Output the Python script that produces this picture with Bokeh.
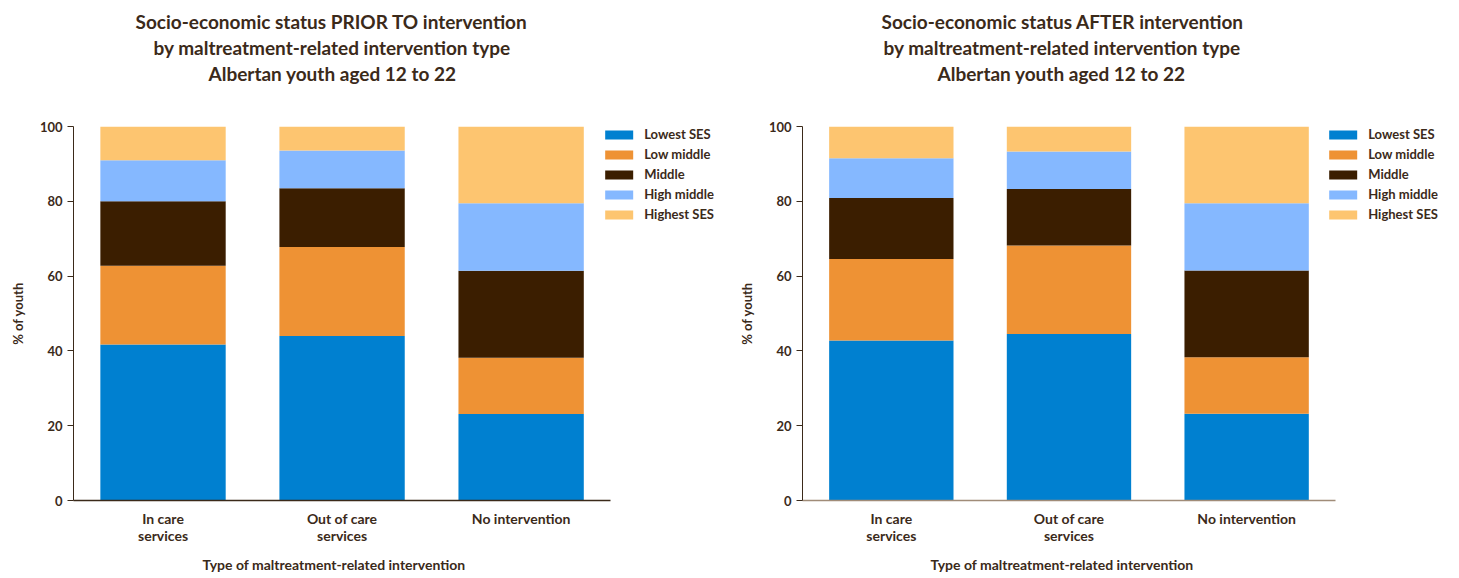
from bokeh.plotting import figure
from bokeh.layouts import row
from bokeh.models import Range1d, Title, FixedTicker
from bokeh.embed import file_html
from bokeh.resources import INLINE

categories = ["In care\nservices", "Out of care\nservices", "No intervention"]
ses_groups = ["Lowest SES", "Low middle", "Middle", "High middle", "Highest SES"]
colors = ["#0080D0", "#EE9234", "#3B1E00", "#85B8FF", "#FDC570"]

prior_lowest = [41.7, 44.0, 23.1]
prior_low_middle = [21.1, 23.8, 15.1]
prior_middle = [17.2, 15.7, 23.2]
prior_high_middle = [11.0, 10.1, 18.1]
prior_highest = [9.0, 6.4, 20.5]

after_lowest = [42.8, 44.5, 23.2]
after_low_middle = [21.8, 23.7, 15.1]
after_middle = [16.3, 15.1, 23.2]
after_high_middle = [10.6, 10.0, 18.0]
after_highest = [8.5, 6.7, 20.5]

title_prior = ["Socio-economic status PRIOR TO intervention",
               "by maltreatment-related intervention type",
               "Albertan youth aged 12 to 22"]
title_after = ["Socio-economic status AFTER intervention",
               "by maltreatment-related intervention type",
               "Albertan youth aged 12 to 22"]
x_title = "Type of maltreatment-related intervention"
y_title = "% of youth"

FONT = "Lato"
TXT = "#3B2A1A"

n = len(categories)
xpos = [i + 0.5 for i in range(n)]


def make(series, title_lines, width, left, title_offsets, xlab_offset, xaxis_color):
    p = figure(x_range=Range1d(0, 3.58), y_range=Range1d(0, 100),
               width=width, height=578, output_backend="svg", toolbar_location=None,
               min_border_left=left, min_border_right=5,
               min_border_top=126, min_border_bottom=77)
    data = {"x": xpos}
    for g, s in zip(ses_groups, series):
        data[g] = s
    p.vbar_stack(ses_groups, x="x", width=0.70, source=data, color=colors,
                 line_color=None, legend_label=ses_groups)
    p.outline_line_color = None
    p.xgrid.grid_line_color = None
    p.ygrid.grid_line_color = None

    p.yaxis.ticker = [0, 20, 40, 60, 80, 100]
    p.yaxis.minor_tick_line_color = None
    p.yaxis.major_tick_out = 6
    p.yaxis.major_tick_in = 0
    p.yaxis.axis_line_color = TXT
    p.yaxis.major_tick_line_color = TXT
    p.yaxis.axis_label = y_title
    p.yaxis.axis_label_standoff = 11

    p.xaxis.ticker = FixedTicker(ticks=xpos)
    p.xaxis.major_label_overrides = {x: c for x, c in zip(xpos, categories)}
    p.xaxis.bounds = (0, n)
    p.xaxis.minor_tick_line_color = None
    p.xaxis.axis_line_color = xaxis_color
    p.xaxis.axis_line_width = 1.5
    p.xaxis.major_tick_line_color = None
    p.xaxis.major_tick_out = 0
    p.xaxis.major_tick_in = 0
    p.xaxis.major_label_standoff = 9
    p.xaxis.major_label_text_line_height = 1.05

    for ax in (p.xaxis, p.yaxis):
        ax.major_label_text_font = FONT
        ax.major_label_text_font_style = "bold"
        ax.major_label_text_color = TXT
        ax.axis_label_text_font = FONT
        ax.axis_label_text_font_style = "bold"
        ax.axis_label_text_font_size = "13px"
        ax.axis_label_text_color = TXT
    p.yaxis.major_label_text_font_size = "13px"
    p.xaxis.major_label_text_font_size = "14px"

    lg = p.legend[0]
    lg.location = "top_right"
    lg.border_line_color = None
    lg.background_fill_alpha = 0
    lg.padding = 0
    lg.margin = 0
    lg.spacing = 4
    lg.glyph_width = 35
    lg.glyph_height = 11
    lg.label_height = 12
    lg.label_standoff = 8
    lg.label_text_font = FONT
    lg.label_text_font_style = "bold"
    lg.label_text_font_size = "13px"
    lg.label_text_color = TXT

    # x-axis title, placed under the category labels
    p.add_layout(Title(text=x_title, align="left", offset=xlab_offset, standoff=12,
                       text_font=FONT, text_font_style="bold",
                       text_font_size="14px", text_color=TXT), "below")

    # blank gap between the three-line heading and the plot area
    p.add_layout(Title(text=" ", standoff=18, text_font_size="19px"), "above")
    for t, off in reversed(list(zip(title_lines, title_offsets))):
        p.add_layout(Title(text=t, align="left", offset=off, standoff=1,
                           text_font=FONT, text_font_style="bold",
                           text_font_size="19px", text_color=TXT), "above")
    return p


p1 = make([prior_lowest, prior_low_middle, prior_middle, prior_high_middle, prior_highest],
          title_prior, 719, 73, [62, 80, 135], 129, TXT)
p2 = make([after_lowest, after_low_middle, after_middle, after_high_middle, after_highest],
          title_after, 724, 83, [79, 81, 135], 128, "#A08C78")

layout = row(p1, p2)
open("out.html", "w").write(file_html(layout, INLINE))
